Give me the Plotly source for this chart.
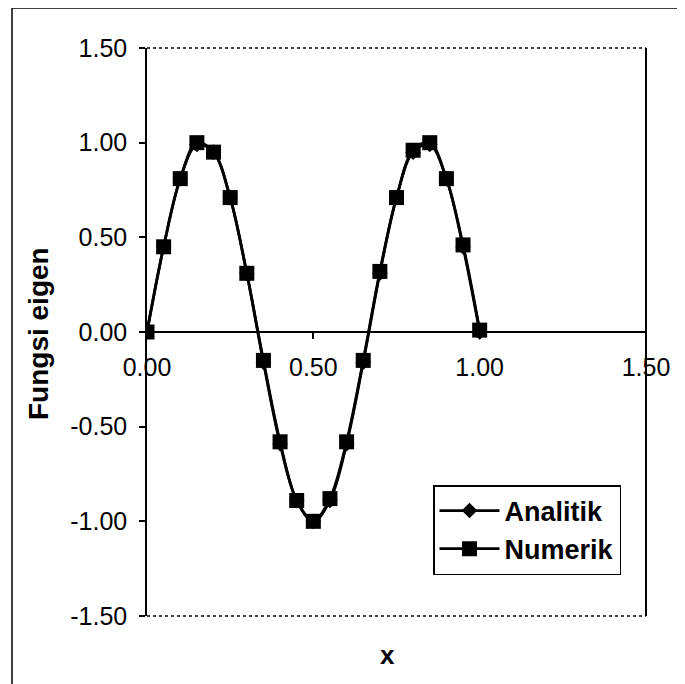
import plotly.graph_objects as go

# data
x_vals = [0.00, 0.05, 0.10, 0.15, 0.20, 0.25, 0.30, 0.35, 0.40, 0.45, 0.50,
          0.55, 0.60, 0.65, 0.70, 0.75, 0.80, 0.85, 0.90, 0.95, 1.00]
analitik = [0.00, 0.45, 0.81, 0.99, 0.95, 0.71, 0.31, -0.16, -0.59, -0.89, -1.00,
            -0.89, -0.59, -0.16, 0.31, 0.71, 0.95, 0.99, 0.81, 0.45, 0.00]
numerik = [0.00, 0.45, 0.81, 1.00, 0.95, 0.71, 0.31, -0.15, -0.58, -0.89, -1.00,
           -0.88, -0.58, -0.15, 0.32, 0.71, 0.96, 1.00, 0.81, 0.46, 0.01]
x_ticks = [0.0, 0.5, 1.0, 1.5]
x_tick_labels = ["0.00", "0.50", "1.00", "1.50"]
y_ticks = [-1.5, -1.0, -0.5, 0.0, 0.5, 1.0, 1.5]
y_tick_labels = ["-1.50", "-1.00", "-0.50", "0.00", "0.50", "1.00", "1.50"]
series_names = ["Analitik", "Numerik"]

FONT = "Liberation Sans, Arial, sans-serif"
W, H = 685, 684
OFF = 8  # page body offset
# target plot area on the page: x 147..646, y 48..616
L, T = 147 - OFF, 48 - OFF
pw, ph = 646 - 147, 616 - 48
R, B = W - L - pw, H - T - ph


def px_x(p):
    return (p - OFF - L) / pw


def px_y(p):
    return (T + ph - (p - OFF)) / ph


fig = go.Figure()
fig.add_trace(go.Scatter(
    x=x_vals, y=analitik, name=series_names[0], mode="lines+markers",
    line=dict(color="black", width=2.8, shape="spline"),
    marker=dict(symbol="diamond", size=12, color="black"),
    legendgroup="a"))
fig.add_trace(go.Scatter(
    x=x_vals, y=numerik, name=series_names[1], mode="lines+markers",
    line=dict(color="black", width=2.8, shape="spline"),
    marker=dict(symbol="square", size=15, color="black"),
    legendgroup="b"))

fig.update_layout(
    width=W, height=H,
    margin=dict(l=L, r=R, t=T, b=B),
    paper_bgcolor="white", plot_bgcolor="white",
    font=dict(family=FONT, color="black", size=25),
    showlegend=True,
    legend=dict(
        x=px_x(433), y=px_y(485), xanchor="left", yanchor="top",
        bgcolor="white", bordercolor="black", borderwidth=1.5,
        font=dict(family=FONT, size=27, color="black", weight="bold"),
        tracegroupgap=0, traceorder="grouped", itemwidth=60,
    ),
    xaxis=dict(
        range=[0, 1.5], tickvals=x_ticks, ticktext=x_tick_labels,
        anchor="free", position=0.5,
        showline=True, linecolor="black", linewidth=1.5,
        ticks="outside", ticklen=6, tickcolor="black", tickwidth=1.5,
        ticklabelstandoff=7,
        showgrid=False, zeroline=False,
        tickfont=dict(size=25),
    ),
    yaxis=dict(
        range=[-1.5, 1.5], tickvals=y_ticks, ticktext=y_tick_labels,
        domain=[0, 1],
        showline=True, linecolor="black", linewidth=1.5,
        ticks="outside", ticklen=6, tickcolor="black", tickwidth=1.5,
        ticklabelstandoff=7,
        showgrid=False, zeroline=False,
        tickfont=dict(size=25),
    ),
)

shapes = [
    # top and bottom dotted frame of plot area
    dict(type="line", xref="paper", yref="paper", x0=0, x1=1, y0=1, y1=1,
         line=dict(color="#444", width=2, dash="dot")),
    dict(type="line", xref="paper", yref="paper", x0=0, x1=1, y0=0, y1=0,
         line=dict(color="#444", width=2, dash="dot")),
    # right solid frame
    dict(type="line", xref="paper", yref="paper", x0=1, x1=1, y0=0, y1=1,
         line=dict(color="black", width=2)),
    # outer figure border (left & top visible)
    dict(type="line", xref="paper", yref="paper", x0=px_x(12), x1=px_x(12),
         y0=px_y(H + 20), y1=px_y(8), line=dict(color="black", width=1.5)),
    dict(type="line", xref="paper", yref="paper", x0=px_x(12), x1=px_x(W + 20),
         y0=px_y(8), y1=px_y(8), line=dict(color="black", width=1.5)),
]
fig.update_layout(shapes=shapes)

fig.add_annotation(
    text="<b>x</b>", xref="paper", yref="paper",
    x=px_x(387), y=px_y(655), showarrow=False,
    font=dict(family=FONT, size=26, color="black"),
    xanchor="center", yanchor="middle")
fig.add_annotation(
    text="<b>Fungsi eigen</b>", xref="paper", yref="paper",
    x=px_x(38), y=px_y(334), showarrow=False, textangle=-90,
    font=dict(family=FONT, size=28, color="black"),
    xanchor="center", yanchor="middle")

fig.write_html("out.html")
